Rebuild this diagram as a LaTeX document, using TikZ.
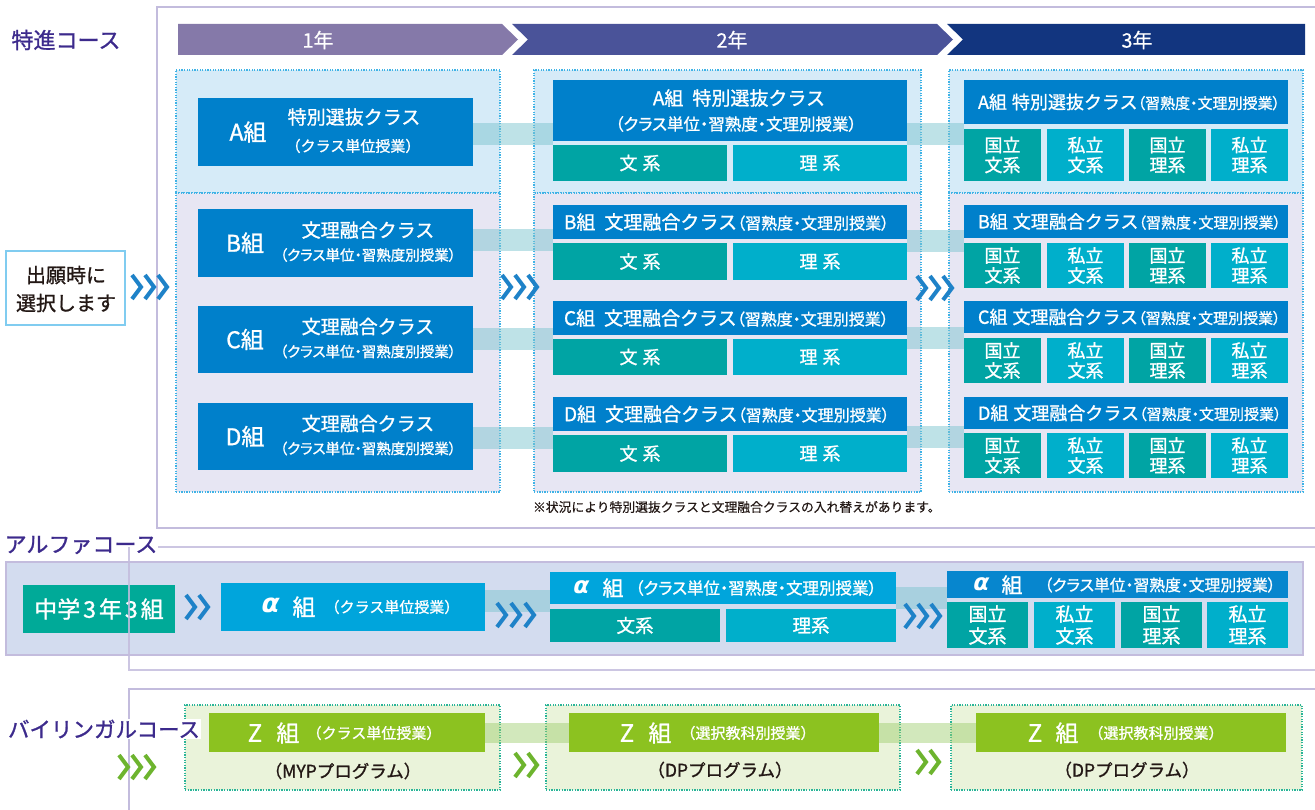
\documentclass[tikz,border=0pt]{standalone}
\usepackage{fontspec}
\setmainfont{Noto Sans CJK JP}[FakeBold=1.1]
\newfontfamily\jpp{Noto Sans CJK JP}[RawFeature=+palt,FakeBold=1.1]
\newfontfamily\jpl{Noto Sans CJK JP}[FakeBold=0.4]
\newfontfamily\grkf{DejaVu Sans}[FakeSlant=0.22]
\usetikzlibrary{calc}
\definecolor{ptext}{HTML}{3C2A8C}
\definecolor{framec}{HTML}{C3BCDD}
\definecolor{dotblue}{HTML}{3FB3E6}
\definecolor{fillA}{HTML}{D6EBF8}
\definecolor{fillB}{HTML}{E7E6F3}
\definecolor{hblue}{HTML}{0080CB}
\definecolor{tealc}{HTML}{00A4A4}
\definecolor{cyanc}{HTML}{00AFCB}
\definecolor{acyan}{HTML}{00A5DC}
\definecolor{a3blue}{HTML}{0786CE}
\definecolor{alphabg}{HTML}{D3DCEF}
\definecolor{jhgreen}{HTML}{00AA98}
\definecolor{chevblue}{HTML}{1E82C8}
\definecolor{zgreen}{HTML}{8CC220}
\definecolor{zfill}{HTML}{EAF3DA}
\definecolor{zdot}{HTML}{2AB598}
\definecolor{chevgreen}{HTML}{6DB42E}
\definecolor{yrone}{HTML}{8579A9}
\definecolor{yrtwo}{HTML}{4A5399}
\definecolor{yrthree}{HTML}{12357F}
\definecolor{bandc}{HTML}{7EC5D0}
\definecolor{zband}{HTML}{9CCC6A}
\definecolor{darkt}{HTML}{231815}
\definecolor{selb}{HTML}{80CCF0}
\newcommand\myfs[2]{\fontsize{#1pt}{#2pt}\selectfont}
\newcommand\mypfs[1]{\jpp\fontsize{#1pt}{#1pt}\selectfont}
\tikzset{
 blk/.style={rectangle,draw=none,inner sep=0pt,outer sep=0pt},
 hb/.style={blk,fill=hblue},
 tb/.style={blk,fill=tealc},
 cb/.style={blk,fill=cyanc},
 wt/.style={text=white,inner sep=0pt,outer sep=0pt},
 dk/.style={text=darkt,inner sep=0pt,outer sep=0pt},
 btxt/.style={wt,align=center,font=\myfs{18}{20}},
 abtxt/.style={wt,align=center,font=\myfs{19}{22}},
 contA/.style={blk,fill=fillA,draw=dotblue,line width=1.2pt,dash pattern=on 1.3pt off 1.3pt},
 contB/.style={blk,fill=fillB,draw=dotblue,line width=1.2pt,dash pattern=on 1.3pt off 1.3pt},
 contZ/.style={blk,fill=zfill,draw=zdot,line width=1.2pt,dash pattern=on 1.3pt off 1.3pt},
 band/.style={draw=bandc,line width=22pt,opacity=.5},
 zbandst/.style={draw=zband,line width=20pt,opacity=.45},
 chev/.style={line width=4pt,miter limit=10,line join=miter},
 frame/.style={draw=framec,line width=2pt},
}
\newcommand\bx[6]{\node[#2,anchor=north west,minimum width={#5-#3},minimum height={#6-#4}] (#1) at (#3,#4) {};}
\newcommand\chevs[5]{\foreach \i in {1,...,#4}{\draw[chev,draw=#1] ({#2+(\i-1)*#5},{#3-12}) -- ++(9,12) -- ++(-9,12);}}
\newcommand\colone[4]{%
 \bx{#1}{hb}{198}{#3}{473}{#4}%
 \node[wt,font=\myfs{23}{23}] (#1k) at (245,{(#3+#4)/2}) {#2組};%
 \node[wt,font=\myfs{19}{19}] (#1t) at (368,{(#3+#4)/2-13}) {文理融合クラス};%
 \node[wt,font=\mypfs{14.5}] (#1s) at (368,{(#3+#4)/2+12}) {（クラス単位・習熟度別授業）};%
}
\newcommand\twob[3]{%
 \bx{#1b}{tb}{553}{#2}{727}{#3}%
 \bx{#1r}{cb}{733}{#2}{907}{#3}%
 \node[wt,font=\myfs{18}{18}] (#1bt) at (#1b) {文\hspace{5pt}系};%
 \node[wt,font=\myfs{18}{18}] (#1rt) at (#1r) {理\hspace{5pt}系};%
}
\newcommand\coltwo[4]{%
 \bx{#1h}{hb}{553}{#3}{907}{#4}%
 \node[wt,anchor=west,font=\myfs{19}{19}] (#1ht) at (564,{(#3+#4)/2}) {#2組\hspace{9pt}文理融合クラス{\mypfs{16}（習熟度・文理別授業）}};%
}
\newcommand\colthree[4]{%
 \bx{#1h}{hb}{964}{#3}{1288}{#4}%
 \node[wt,anchor=west,font=\myfs{18}{18}] (#1ht) at (978,{(#3+#4)/2}) {#2組\hspace{5pt}文理融合クラス{\mypfs{15}（習熟度・文理別授業）}};%
}
\newcommand\fourb[3]{%
 \bx{#1p}{tb}{964}{#2}{1041}{#3}%
 \bx{#1q}{cb}{1047}{#2}{1124}{#3}%
 \bx{#1s}{tb}{1129}{#2}{1206}{#3}%
 \bx{#1u}{cb}{1211}{#2}{1288}{#3}%
 \node[btxt] (#1pt) at (#1p) {国立\\文系};%
 \node[btxt] (#1qt) at (#1q) {私立\\文系};%
 \node[btxt] (#1st) at (#1s) {国立\\理系};%
 \node[btxt] (#1ut) at (#1u) {私立\\理系};%
}
\begin{document}
\begin{tikzpicture}[x=1pt,y=-1pt]
\useasboundingbox (0,0) rectangle (1315,810);
% ---------- 特進コース ----------
\draw[frame] (1315,7) -- (157,7) -- (157,528) -- (1315,528);
\node[text=ptext,inner sep=0pt,font=\myfs{22}{22}] (L1) at (66,40) {特進コース};
\fill[yrone] (178,24) -- (502,24) -- (518,39.5) -- (502,55) -- (178,55) -- cycle;
\fill[yrtwo] (512,24) -- (937,24) -- (953,39.5) -- (937,55) -- (512,55) -- (528,39.5) -- cycle;
\fill[yrthree] (947,24) -- (1305,24) -- (1305,55) -- (947,55) -- (963,39.5) -- cycle;
\node[wt,font=\jpl\myfs{20}{20}] (Y1) at (318,40) {1年};
\node[wt,font=\jpl\myfs{20}{20}] (Y2) at (732,40) {2年};
\node[wt,font=\jpl\myfs{20}{20}] (Y3) at (1137,40) {3年};
% containers
\bx{C1A}{contA}{176}{70}{500}{193}
\bx{C1B}{contB}{176}{193}{500}{492}
\bx{C2A}{contA}{534}{70}{921}{193}
\bx{C2B}{contB}{534}{193}{921}{492}
\bx{C3A}{contA}{949}{70}{1303}{193}
\bx{C3B}{contB}{949}{193}{1303}{492}
% column 1
\bx{A1}{hb}{198}{98}{473}{166}
\node[wt,font=\myfs{23}{23}] (A1k) at (248,132) {A組};
\node[wt,font=\myfs{19}{19}] (A1t) at (354,117) {特別選抜クラス};
\node[wt,font=\myfs{15}{15}] (A1s) at (353,146) {（クラス単位授業）};
\colone{B1}{B}{209}{277}
\colone{C1}{C}{306}{373}
\colone{D1}{D}{403}{470}
% column 2
\bx{A2h}{hb}{553}{80}{907}{141}
\node[wt,font=\myfs{19}{19}] (A2ht) at (739,98) {A組\hspace{9pt}特別選抜クラス};
\node[wt,font=\mypfs{16.5}] (A2hs) at (736,124) {（クラス単位・習熟度・文理別授業）};
\twob{A2}{145}{181}
\coltwo{B2}{B}{205}{239}
\twob{B2}{243}{280}
\coltwo{C2}{C}{301}{335}
\twob{C2}{339}{375}
\coltwo{D2}{D}{397}{431}
\twob{D2}{435}{472}
% column 3
\bx{A3h}{hb}{964}{80}{1288}{124}
\node[wt,anchor=west,font=\myfs{18}{18}] (A3ht) at (978,102) {A組\hspace{5pt}特別選抜クラス{\mypfs{15}（習熟度・文理別授業）}};
\fourb{A3}{129}{181}
\colthree{B3}{B}{205}{238}
\fourb{B3}{243}{288}
\colthree{C3}{C}{301}{333}
\fourb{C3}{338}{383}
\colthree{D3}{D}{397}{429}
\fourb{D3}{433}{478}
% bands
\draw[band] ([yshift=-2pt]A1.east) -- ([yshift=-2pt]A1.east -| A2h.west);
\draw[band] ([yshift=3pt]B1.east) -- ([yshift=3pt]B1.east -| B2h.west);
\draw[band] ([yshift=0.5pt]C1.east) -- ([yshift=0.5pt]C1.east -| C2h.west);
\draw[band] ([yshift=-1.5pt]D1.east) -- ([yshift=-1.5pt]D1.east -| D2h.west);
\draw[band] ([yshift=-24pt]A2h.east) -- ([yshift=-24pt]A2h.east -| A3h.west);
\draw[band] ([yshift=-19.5pt]B2h.east) -- ([yshift=-19.5pt]B2h.east -| B3h.west);
\draw[band] ([yshift=-20pt]C2h.east) -- ([yshift=-20pt]C2h.east -| C3h.west);
\draw[band] ([yshift=-22.5pt]D2h.east) -- ([yshift=-22.5pt]D2h.east -| D3h.west);
% selection box
\bx{SEL}{blk,fill=white,draw=selb,line width=2pt}{6}{251}{125}{325}
\node[dk,align=center,font=\myfs{20}{28}] (SELt) at (66,289) {出願時に\\選択します};
\node[dk,anchor=west,font=\jpl\myfs{12.8}{12.8}] (NOTE) at (533,507) {※状況により特別選抜クラスと文理融合クラスの入れ替えがあります。};
\chevs{chevblue}{132}{287}{3}{13}
\chevs{chevblue}{502}{287}{3}{13}
\chevs{chevblue}{917}{288}{3}{13}
% ---------- アルファコース ----------
\bx{ALbg}{blk,fill=alphabg,draw=framec,line width=2pt}{6}{562}{1303}{655}
\node[text=ptext,inner sep=0pt,font=\myfs{22}{22}] (L2) at (81,545) {アルファコース};
\bx{JH}{blk,fill=jhgreen}{23}{585}{175}{633}
\node[wt,font=\myfs{23}{23}] (JHt) at (JH) {中学\kern3pt 3\kern3pt 年\kern3pt 3\kern3pt 組};
\bx{AL1}{blk,fill=acyan}{221}{583}{485}{631}
\node[wt,font=\grkf\bfseries\myfs{26}{26}] (AL1a) at (269,605) {α};
\node[wt,font=\myfs{23}{23}] (AL1k) at (304,607) {組};
\node[wt,font=\myfs{15}{15}] (AL1s) at (392,607) {（クラス単位授業）};
\bx{AL2h}{blk,fill=acyan}{550}{572}{896}{604}
\node[wt,font=\grkf\bfseries\myfs{23}{23}] (AL2a) at (580,587) {α};
\node[wt,font=\myfs{21}{21}] (AL2k) at (613,588) {組};
\node[wt,font=\mypfs{16.5}] (AL2s) at (756,588) {（クラス単位・習熟度・文理別授業）};
\bx{AL2b}{tb}{550}{609}{720}{642}
\bx{AL2r}{cb}{726}{609}{896}{642}
\node[wt,font=\myfs{18.5}{18.5}] (AL2bt) at (AL2b) {文系};
\node[wt,font=\myfs{18.5}{18.5}] (AL2rt) at (AL2r) {理系};
\bx{AL3h}{blk,fill=a3blue}{947}{571}{1288}{598}
\node[wt,font=\grkf\bfseries\myfs{23}{23}] (AL3a) at (980,584) {α};
\node[wt,font=\myfs{21}{21}] (AL3k) at (1012,585) {組};
\node[wt,font=\mypfs{15.8}] (AL3s) at (1160,585) {（クラス単位・習熟度・文理別授業）};
\bx{AL3p}{tb}{947}{602}{1028}{648}
\bx{AL3q}{cb}{1034}{602}{1115}{648}
\bx{AL3s}{tb}{1121}{602}{1202}{648}
\bx{AL3u}{cb}{1207}{602}{1288}{648}
\node[abtxt] (AL3pt) at (AL3p) {国立\\文系};
\node[abtxt] (AL3qt) at (AL3q) {私立\\文系};
\node[abtxt] (AL3st) at (AL3s) {国立\\理系};
\node[abtxt] (AL3ut) at (AL3u) {私立\\理系};
\draw[band] ([yshift=6.5pt]AL1.east) -- ([yshift=6.5pt]AL1.east -| AL2h.west);
\draw[band] ([yshift=-10pt]AL2h.east) -- ([yshift=-10pt]AL2h.east -| AL3h.west);
\chevs{chevblue}{186}{607}{2}{13}
\chevs{chevblue}{497}{615}{3}{14}
\chevs{chevblue}{905}{616}{3}{13}
\draw[frame,opacity=.85] (1315,547) -- (158,547);
\draw[frame,opacity=.85] (129,547) -- (129,670) -- (1315,670);
% ---------- バイリンガルコース ----------
\draw[frame] (1315,689) -- (129,689) -- (129,810);
\bx{Z1c}{contZ}{185}{705}{500}{790}
\bx{Z2c}{contZ}{546}{705}{900}{790}
\bx{Z3c}{contZ}{951}{705}{1302}{790}
\bx{Z1h}{blk,fill=zgreen}{209}{713}{485}{752}
\bx{Z2h}{blk,fill=zgreen}{569}{713}{879}{752}
\bx{Z3h}{blk,fill=zgreen}{976}{713}{1286}{752}
\draw[zbandst] (Z1h.east) -- (Z1h.east -| Z2h.west);
\draw[zbandst] (Z2h.east) -- (Z2h.east -| Z3h.west);
\node[wt,font=\myfs{24}{24}] (Z1z) at (255,733) {Z};
\node[wt,font=\myfs{23}{23}] (Z1k) at (288,733) {組};
\node[wt,font=\myfs{15}{15}] (Z1s) at (374,733) {（クラス単位授業）};
\node[wt,font=\myfs{24}{24}] (Z2z) at (627,733) {Z};
\node[wt,font=\myfs{23}{23}] (Z2k) at (660,733) {組};
\node[wt,font=\myfs{15}{15}] (Z2s) at (748,733) {（選択教科別授業）};
\node[wt,font=\myfs{24}{24}] (Z3z) at (1035,733) {Z};
\node[wt,font=\myfs{23}{23}] (Z3k) at (1067,733) {組};
\node[wt,font=\myfs{15}{15}] (Z3s) at (1156,733) {（選択教科別授業）};
\node[dk,font=\myfs{17.5}{17.5}] (Z1p) at (343,771) {（MYPプログラム）};
\node[dk,font=\myfs{17.5}{17.5}] (Z2p) at (720,770) {（DPプログラム）};
\node[dk,font=\myfs{17.5}{17.5}] (Z3p) at (1127,770) {（DPプログラム）};
\node[text=ptext,fill=white,inner sep=1pt,font=\myfs{21.5}{21.5}] (L3) at (104,729) {バイリンガルコース};
\chevs{chevgreen}{119}{767}{3}{13}
\chevs{chevgreen}{515}{765}{2}{13}
\chevs{chevgreen}{917}{762}{2}{13}
\end{tikzpicture}
\end{document}
